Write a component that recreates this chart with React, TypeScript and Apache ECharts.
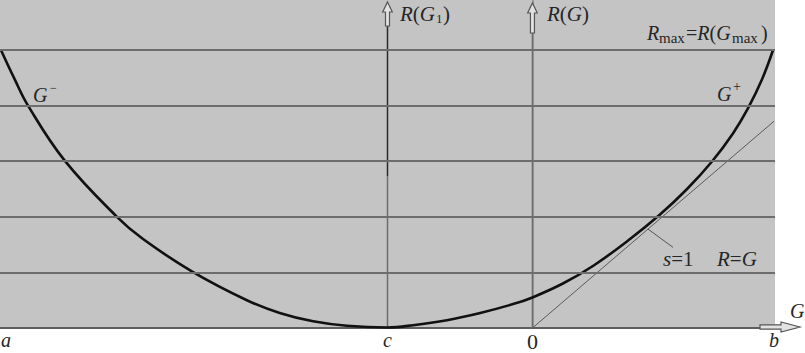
import { useEffect, useRef } from "react";
import * as echarts from "echarts";

// Curve R(G) (G, R in chart units)
const curveG = [-11, -10.72, -10.44, -9.68, -8.6, -8.06, -7.05, -5.91, -5.23, -4.54, -3.84, -3.0, -2.47, -1.77, -1.08, -0.4, 0, 0.63, 1.26, 2.02, 2.64, 3.2, 3.72, 4.15, 4.46, 4.75, 4.98];
const curveR = [5.0, 4.48, 4.0, 3.01, 2.0, 1.6, 1.02, 0.5, 0.27, 0.12, 0.04, 0.01, 0.05, 0.14, 0.27, 0.43, 0.55, 0.8, 1.12, 1.6, 2.04, 2.5, 3.0, 3.5, 3.95, 4.47, 5.0];

// straight line s=1, R=G
const lineG = [0, 5];
const lineR = [0, 3.72];

// pointer from label to the line
const pointerG = [2.39, 2.91];
const pointerR = [1.78, 1.45];

// horizontal levels
const gridLevels = [1, 2, 3, 4, 5];

// x tick positions and labels
const xTickValues = [-11, -3, 0, 5];
const xTickLabels = ["a", "c", "0", "b"];
const pointC = -3;
const pointZero = 0;
const darkAxisTo = 2.73;

const SERIF = '"Liberation Serif", "Times New Roman", serif';
const INK = "#262626";

export default function App() {
  const ref = useRef<HTMLDivElement>(null);
  useEffect(() => {
    if (!ref.current) return;
    const chart = echarts.init(ref.current, null, { renderer: "svg" });
    const curveData = curveG.map((g, i) => [g, curveR[i]]);
    const lineData = lineG.map((g, i) => [g, lineR[i]]);
    const pointerData = pointerG.map((g, i) => [g, pointerR[i]]);
    chart.setOption({
      animation: false,
      grid: {
        show: true,
        left: 0,
        right: 30,
        top: 0,
        bottom: 25,
        backgroundColor: "#c4c4c4",
        borderWidth: 0,
        containLabel: false,
        outerBoundsMode: "none",
      },
      xAxis: {
        type: "value",
        min: -11.02,
        max: 5.02,
        axisLine: { show: true, onZero: false, lineStyle: { color: "#5e5e5e", width: 2 } },
        axisTick: { show: false },
        splitLine: { show: false },
        axisLabel: {
          show: true,
          customValues: xTickValues,
          margin: 2,
          alignMinLabel: "left",
          formatter: (v: number) => {
            const i = xTickValues.indexOf(v);
            const s = i >= 0 ? xTickLabels[i] : "";
            return s === "0" ? "{n|" + s + "}" : "{i|" + s + "}";
          },
          rich: {
            i: { fontFamily: SERIF, fontStyle: "italic", fontSize: 20, color: INK },
            n: { fontFamily: SERIF, fontSize: 22, color: INK },
          },
        },
      },
      yAxis: {
        type: "value",
        min: 0,
        max: 5.9,
        axisLine: { show: true, lineStyle: { color: "#8c8c8c", width: 1.5 } },
        axisTick: { show: false },
        axisLabel: { show: false },
        splitLine: { show: false },
      },
      series: [
        {
          type: "line",
          data: [],
          silent: true,
          markLine: {
            silent: true,
            symbol: "none",
            label: { show: false },
            lineStyle: { color: "#6d6d6d", width: 1.8, type: "solid" },
            data: gridLevels.map((v) => ({ yAxis: v })),
          },
        },
        {
          type: "line",
          data: pointerData,
          symbol: "none",
          silent: true,
          lineStyle: { color: "#555", width: 1 },
        },
        {
          type: "line",
          data: lineData,
          symbol: "none",
          silent: true,
          lineStyle: { color: "#5a5a5a", width: 1 },
        },
        {
          type: "line",
          data: curveData,
          symbol: "none",
          smooth: 0.4,
          silent: true,
          lineStyle: { color: "#111", width: 2.6 },
          z: 4,
        },
      ],
    });

    const p = (g: number, r: number) => chart.convertToPixel({ gridIndex: 0 }, [g, r]) as number[];
    const [cx, yBottom] = p(pointC, 0);
    const [zx] = p(pointZero, 0);
    const [, yDark] = p(pointC, darkAxisTo);

    const upArrow = (x: number, tip: number, bottom: number) => ({
      type: "polygon",
      z: 10,
      shape: {
        points: [
          [x, tip],
          [x + 4.8, tip + 10],
          [x + 2, tip + 10],
          [x + 2, bottom],
          [x - 2, bottom],
          [x - 2, tip + 10],
          [x - 4.8, tip + 10],
        ],
      },
      style: { fill: "#e2e2e2", stroke: "#555", lineWidth: 1.2 },
    });

    const txt = (x: number, y: number, text: string, size: number, italic: boolean) => ({
      type: "text",
      z: 12,
      style: {
        x,
        y,
        text,
        fill: INK,
        font: (italic ? "italic " : "") + size + "px " + SERIF,
        align: "left",
        verticalAlign: "middle",
      },
    });

    const rich = (x: number, y: number, text: string, size: number) => ({
      type: "text",
      z: 12,
      style: {
        x,
        y,
        text,
        fill: INK,
        align: "left",
        verticalAlign: "middle",
        rich: {
          i: { fontFamily: SERIF, fontStyle: "italic", fontSize: size, fill: INK },
          n: { fontFamily: SERIF, fontSize: size, fill: INK },
        },
      },
    });

    const gy = yBottom - 1;
    chart.setOption({
      graphic: [
        { type: "line", z: 1, shape: { x1: cx, y1: 25, x2: cx, y2: yDark }, style: { stroke: "#2a2a2a", lineWidth: 1.5 } },
        { type: "line", z: 1, shape: { x1: cx, y1: yDark, x2: cx, y2: yBottom }, style: { stroke: "#6d6d6d", lineWidth: 1.5 } },
        { type: "line", z: 1, shape: { x1: zx, y1: 33, x2: zx, y2: yBottom }, style: { stroke: "#6d6d6d", lineWidth: 1.5 } },
        upArrow(cx, 2, 26),
        upArrow(zx, 3, 33),
        {
          type: "polygon",
          z: 10,
          shape: {
            points: [
              [800, gy],
              [781, gy - 5],
              [781, gy - 2.2],
              [760, gy - 2.2],
              [760, gy + 2.2],
              [781, gy + 2.2],
              [781, gy + 5],
            ],
          },
          style: { fill: "#e2e2e2", stroke: "#555", lineWidth: 1.2 },
        },
        // G- and G+
        txt(33, 95, "G", 20, true),
        txt(50, 88, "\u2212", 12, false),
        txt(717, 94, "G", 20, true),
        txt(733, 86, "+", 14, false),
        // R(G1)
        rich(400, 14, "{i|R}{n|(}{i|G}", 21),
        txt(436, 18, "1", 13, false),
        txt(443, 14, ")", 21, false),
        // R(G)
        rich(547, 14, "{i|R}{n|(}{i|G}{n|)}", 21),
        // Rmax = R(Gmax)
        txt(647, 33, "R", 20, true),
        txt(659, 38, "max", 15, false),
        rich(686, 33, "{n|=}{i|R}{n|(}{i|G}", 20),
        txt(732, 38, "max", 15, false),
        txt(761, 33, ")", 20, false),
        // s=1  R=G
        rich(663, 259, "{i|s}{n|=1}", 21),
        rich(717, 259, "{i|R}{n|=}{i|G}", 21),
        // axis name G
        txt(790, 311, "G", 20, true),
      ],
    });

    return () => chart.dispose();
  }, []);
  return <div ref={ref} style={{ position: "absolute", left: 0, top: 0, width: 805, height: 353 }} />;
}
